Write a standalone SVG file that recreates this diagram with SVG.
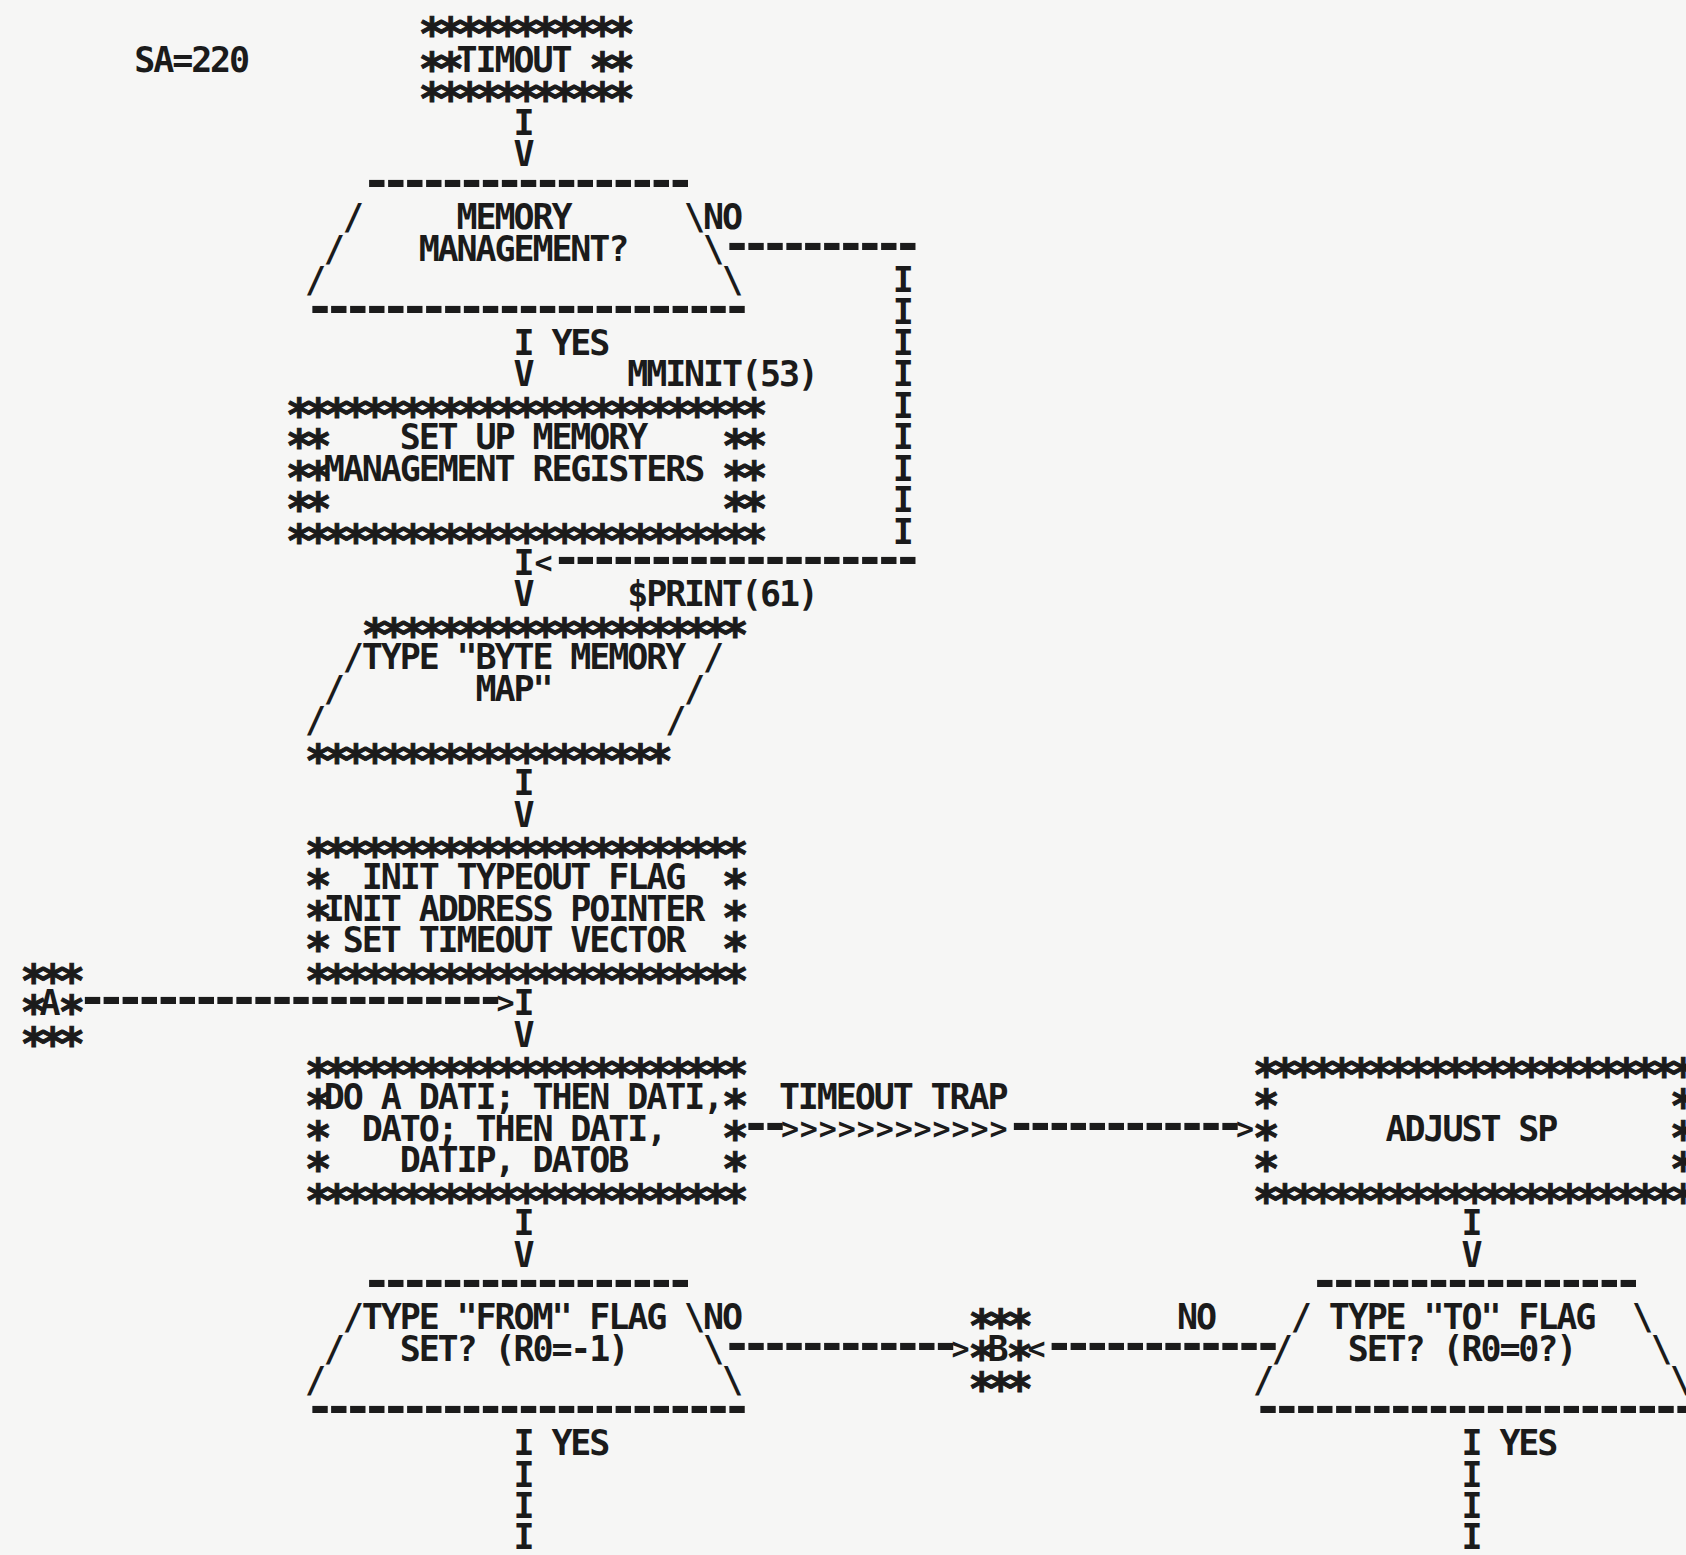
<svg xmlns="http://www.w3.org/2000/svg" width="1686" height="1555" viewBox="0 0 1686 1555">
<style>
text{font-family:"DejaVu Sans Mono","Liberation Mono",monospace;font-weight:bold;font-size:35px;letter-spacing:-2.11px;fill:#1b1b1b}
.s{font-size:44px;letter-spacing:-7.53px;stroke:#1b1b1b;stroke-width:1px;transform:translate(0px,1px)}
.d{font-size:50px;letter-spacing:-11.14px}
.a{font-size:30px;letter-spacing:0.9px}
</style>
<rect width="1686" height="1555" fill="#f6f6f5"/>
<g id="diagram" transform="translate(0,5)">

<g id="label-sa"><text x="134.26" y="67.1">SA=220</text></g>

<g id="node-timout">
<text class="s" x="418.66" y="42.5">***********</text>
<text class="s" x="418.66" y="78.1">**</text>
<text x="456.58" y="67.1">TIMOUT</text>
<text class="s" x="589.3" y="78.1">**</text>
<text class="s" x="418.66" y="107.6">***********</text>
</g>

<g id="node-memory-decision">
<text class="d" x="361.78" y="192.9">-----------------</text>
<text x="342.82" y="224.3">/</text>
<text x="456.58" y="224.3">MEMORY</text>
<text x="684.1" y="224.3">\</text>
<text x="323.86" y="255.7">/</text>
<text x="418.66" y="255.7">MANAGEMENT?</text>
<text x="703.06" y="255.7">\</text>
<text x="304.9" y="287.1">/</text>
<text x="722.02" y="287.1">\</text>
<text class="d" x="304.9" y="318.6">-----------------------</text>
</g>

<g id="node-setup-mm">
<text x="627.22" y="381.4">MMINIT(53)</text>
<text class="s" x="285.94" y="423.9">*************************</text>
<text class="s" x="285.94" y="455.3">**</text>
<text x="399.7" y="444.3">SET UP MEMORY</text>
<text class="s" x="722.02" y="455.3">**</text>
<text class="s" x="285.94" y="486.7">**</text>
<text x="323.86" y="475.7">MANAGEMENT REGISTERS</text>
<text class="s" x="722.02" y="486.7">**</text>
<text class="s" x="285.94" y="518.2">**</text>
<text class="s" x="722.02" y="518.2">**</text>
<text class="s" x="285.94" y="549.6">*************************</text>
</g>

<g id="node-byte-map">
<text x="627.22" y="601.4">$PRINT(61)</text>
<text class="s" x="361.78" y="643.9">********************</text>
<text x="342.82" y="664.3">/</text>
<text x="361.78" y="664.3">TYPE "BYTE MEMORY</text>
<text x="703.06" y="664.3">/</text>
<text x="323.86" y="695.7">/</text>
<text x="475.54" y="695.7">MAP"</text>
<text x="684.1" y="695.7">/</text>
<text x="304.9" y="727.2">/</text>
<text x="665.14" y="727.2">/</text>
<text class="s" x="304.9" y="769.6">*******************</text>
</g>

<g id="node-init">
<text class="s" x="304.9" y="863.9">***********************</text>
<text class="s" x="304.9" y="895.3">*</text>
<text x="361.78" y="884.3">INIT TYPEOUT FLAG</text>
<text class="s" x="722.02" y="895.3">*</text>
<text class="s" x="304.9" y="926.7">*</text>
<text x="323.86" y="915.7">INIT ADDRESS POINTER</text>
<text class="s" x="722.02" y="926.7">*</text>
<text class="s" x="304.9" y="958.2">*</text>
<text x="342.82" y="947.2">SET TIMEOUT VECTOR</text>
<text class="s" x="722.02" y="958.2">*</text>
<text class="s" x="304.9" y="989.6">***********************</text>
</g>

<g id="node-a">
<text class="s" x="20.5" y="989.6">***</text>
<text class="s" x="20.5" y="1021">*</text>
<text x="39.46" y="1010">A</text>
<text class="s" x="58.42" y="1021">*</text>
<text class="s" x="20.5" y="1052.5">***</text>
</g>

<g id="node-dati">
<text class="s" x="304.9" y="1083.9">***********************</text>
<text class="s" x="304.9" y="1115.3">*</text>
<text x="323.86" y="1104.3">DO A DATI; THEN DATI,</text>
<text class="s" x="722.02" y="1115.3">*</text>
<text class="s" x="304.9" y="1146.8">*</text>
<text x="361.78" y="1135.8">DATO; THEN DATI,</text>
<text class="s" x="722.02" y="1146.8">*</text>
<text class="s" x="304.9" y="1178.2">*</text>
<text x="399.7" y="1167.2">DATIP, DATOB</text>
<text class="s" x="722.02" y="1178.2">*</text>
<text class="s" x="304.9" y="1209.6">***********************</text>
</g>

<g id="node-adjust-sp">
<text class="s" x="1252.9" y="1083.9">***********************</text>
<text class="s" x="1252.9" y="1115.3">*</text>
<text class="s" x="1670.02" y="1115.3">*</text>
<text class="s" x="1252.9" y="1146.8">*</text>
<text x="1385.62" y="1135.8">ADJUST SP</text>
<text class="s" x="1670.02" y="1146.8">*</text>
<text class="s" x="1252.9" y="1178.2">*</text>
<text class="s" x="1670.02" y="1178.2">*</text>
<text class="s" x="1252.9" y="1209.6">***********************</text>
</g>

<g id="node-from-decision">
<text class="d" x="361.78" y="1292.9">-----------------</text>
<text x="342.82" y="1324.3">/</text>
<text x="361.78" y="1324.3">TYPE "FROM" FLAG</text>
<text x="684.1" y="1324.3">\</text>
<text x="323.86" y="1355.8">/</text>
<text x="399.7" y="1355.8">SET? (R0=-1)</text>
<text x="703.06" y="1355.8">\</text>
<text x="304.9" y="1387.2">/</text>
<text x="722.02" y="1387.2">\</text>
<text class="d" x="304.9" y="1418.6">-----------------------</text>
</g>

<g id="node-b">
<text class="s" x="968.5" y="1335.3">***</text>
<text class="s" x="968.5" y="1366.8">*</text>
<text x="987.46" y="1355.8">B</text>
<text class="s" x="1006.42" y="1366.8">*</text>
<text class="s" x="968.5" y="1398.2">***</text>
</g>

<g id="node-to-decision">
<text class="d" x="1309.78" y="1292.9">-----------------</text>
<text x="1290.82" y="1324.3">/</text>
<text x="1328.74" y="1324.3">TYPE "TO" FLAG</text>
<text x="1632.1" y="1324.3">\</text>
<text x="1271.86" y="1355.8">/</text>
<text x="1347.7" y="1355.8">SET? (R0=0?)</text>
<text x="1651.06" y="1355.8">\</text>
<text x="1252.9" y="1387.2">/</text>
<text x="1670.02" y="1387.2">\</text>
<text class="d" x="1252.9" y="1418.6">-----------------------</text>
</g>

<g id="connectors">
<text x="513.46" y="130">I</text>
<text x="513.46" y="161.4">V</text>
<text x="703.06" y="224.3">NO</text>
<text class="d" x="722.02" y="255.7">----------</text>
<text x="892.66" y="287.1">I</text>
<text x="892.66" y="318.6">I</text>
<text x="892.66" y="350">I</text>
<text x="892.66" y="381.4">I</text>
<text x="892.66" y="412.9">I</text>
<text x="892.66" y="444.3">I</text>
<text x="892.66" y="475.7">I</text>
<text x="892.66" y="507.2">I</text>
<text x="892.66" y="538.6">I</text>
<text x="513.46" y="570">I</text>
<text class="a" x="534.4" y="568">&lt;</text>
<text class="d" x="551.38" y="570">-------------------</text>
<text x="513.46" y="350">I</text>
<text x="551.38" y="350">YES</text>
<text x="513.46" y="381.4">V</text>
<text x="513.46" y="601.4">V</text>
<text x="513.46" y="790">I</text>
<text x="513.46" y="821.5">V</text>
<text class="d" x="77.38" y="1010">----------------------</text>
<text class="a" x="496.5" y="1008">&gt;</text>
<text x="513.46" y="1010">I</text>
<text x="513.46" y="1041.5">V</text>
<text x="778.9" y="1104.3">TIMEOUT TRAP</text>
<text class="d" x="740.98" y="1135.8">--</text>
<text class="a" x="780.9" y="1133.8">&gt;&gt;&gt;&gt;&gt;&gt;&gt;&gt;&gt;&gt;&gt;&gt;</text>
<text class="d" x="1006.42" y="1135.8">------------</text>
<text class="a" x="1235.9" y="1133.8">&gt;</text>
<text x="513.46" y="1230">I</text>
<text x="513.46" y="1261.5">V</text>
<text x="1461.46" y="1230">I</text>
<text x="1461.46" y="1261.5">V</text>
<text x="703.06" y="1324.3">NO</text>
<text class="d" x="722.02" y="1355.8">------------</text>
<text class="a" x="951.5" y="1353.8">&gt;</text>
<text x="1177.06" y="1324.3">NO</text>
<text class="a" x="1027.4" y="1353.8">&lt;</text>
<text class="d" x="1044.34" y="1355.8">------------</text>
<text x="513.46" y="1450">I</text>
<text x="551.38" y="1450">YES</text>
<text x="513.46" y="1481.5">I</text>
<text x="513.46" y="1512.9">I</text>
<text x="513.46" y="1544.3">I</text>
<text x="1461.46" y="1450">I</text>
<text x="1499.38" y="1450">YES</text>
<text x="1461.46" y="1481.5">I</text>
<text x="1461.46" y="1512.9">I</text>
<text x="1461.46" y="1544.3">I</text>
</g>
</g>
</svg>
